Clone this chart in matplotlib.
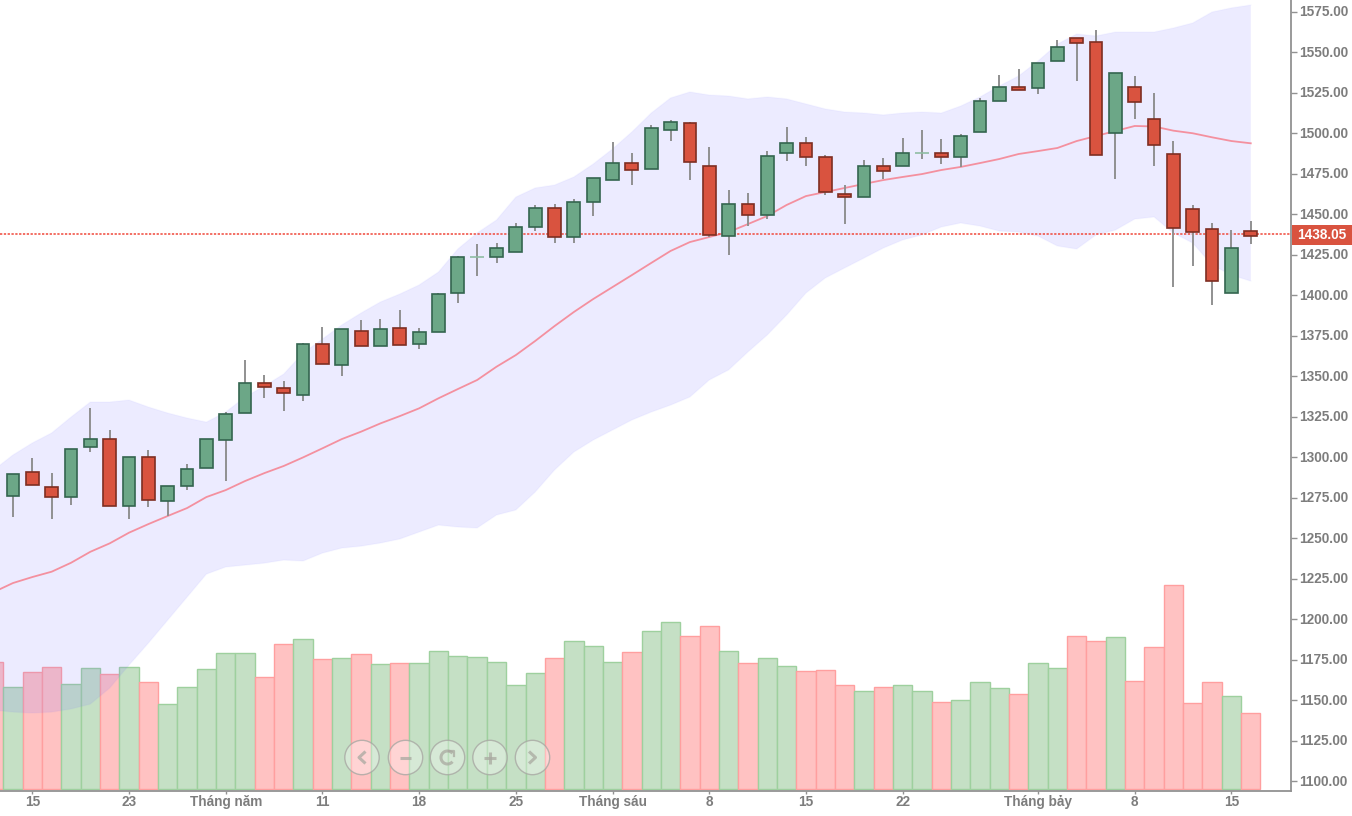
import matplotlib
matplotlib.use("Agg")
import matplotlib.pyplot as plt
import numpy as np
from matplotlib.patches import Arc, Circle
from matplotlib.transforms import ScaledTranslation

plt.rcParams["font.family"] = ["Liberation Sans", "DejaVu Sans"]

opens = [1276, 1291, 1281.8, 1275.2, 1306.1, 1311.1, 1269.9, 1300.1, 1273, 1282.2, 1293.1, 1310.8, 1327.1,
         1345.6, 1342.6, 1338.4, 1369.7, 1357.1, 1378.1, 1368.7, 1379.6, 1370.1, 1377.3, 1401.2, 1423.7, 1423.7,
         1426.6, 1442.2, 1453.9, 1436, 1457.4, 1471.4, 1481.7, 1478.2, 1502.1, 1506.4, 1480.1, 1436.6, 1456.2,
         1449.8, 1487.7, 1494.1, 1485.6, 1462.4, 1460.5, 1480.1, 1480, 1488.1, 1487.9, 1485.2, 1500.7, 1520,
         1528.9, 1527.9, 1544.7, 1558.9, 1556.5, 1500.1, 1528.9, 1508.7, 1487.1, 1453.1, 1440.8, 1401.2, 1439.6]
closes = [1289.4, 1283, 1275.2, 1304.9, 1311.1, 1269.9, 1300.1, 1273.7, 1282.4, 1292.5, 1311.1, 1326.5, 1345.8,
          1343.2, 1339.5, 1369.7, 1357.8, 1379, 1368.7, 1379, 1369.5, 1377.3, 1400.8, 1423.8, 1423.7, 1429,
          1442.2, 1453.9, 1436, 1457.6, 1472.5, 1481.7, 1477.4, 1503.3, 1507.2, 1482.3, 1437.1, 1456.2, 1449.8,
          1486.2, 1494.1, 1485.2, 1463.8, 1460.5, 1480.1, 1476.8, 1487.9, 1488.1, 1485.2, 1498.6, 1520.2, 1528.9,
          1526.8, 1543.5, 1553.6, 1555.7, 1486.9, 1537.3, 1519.4, 1493, 1441.4, 1439.1, 1408.8, 1429.2, 1436.9]
highs = [1289.4, 1299.7, 1290.4, 1304.9, 1330.6, 1316.6, 1300.1, 1304.3, 1282.4, 1295.8, 1311.1, 1328.1, 1360,
         1350.8, 1346.9, 1370.7, 1380.6, 1379, 1384.6, 1385.4, 1390.9, 1380, 1401.6, 1424, 1431.7, 1432.5,
         1444.9, 1455.6, 1456.4, 1459.5, 1472.5, 1494.9, 1488.1, 1505, 1508.1, 1507.2, 1491.8, 1465, 1463.4,
         1489, 1503.8, 1497.6, 1486.5, 1468, 1483.4, 1485, 1497.4, 1502.1, 1496.6, 1499.6, 1521.9, 1536.1,
         1539.8, 1543.5, 1557.7, 1558.9, 1563.9, 1537.3, 1535.3, 1525.2, 1495.1, 1455.8, 1444.9, 1440.3, 1445.7]
lows = [1263.1, 1283, 1262, 1270.5, 1303, 1269.9, 1262, 1269.1, 1263.7, 1279.7, 1293.1, 1285.3, 1327.1,
        1336.4, 1328.5, 1334.5, 1357.8, 1350.2, 1368.7, 1368.7, 1369.5, 1367, 1377.3, 1395.4, 1411.9, 1420.1,
        1426.6, 1439.5, 1432.5, 1432.5, 1448.8, 1471.4, 1468.1, 1478.2, 1495.1, 1471.2, 1436, 1424.9, 1442.8,
        1447.3, 1482.8, 1479.7, 1462, 1444.2, 1460.5, 1471.8, 1480, 1484.4, 1481.3, 1479.3, 1500.7, 1520,
        1526.8, 1524.5, 1544.7, 1532.4, 1486.9, 1471.8, 1509.1, 1479.7, 1404.9, 1417.9, 1394, 1401.2, 1431.9]

# these start one session before the first visible candle
ma = [1216.7, 1222.3, 1226, 1229.3, 1234.8, 1241.6, 1246.8, 1253.4, 1258.7, 1263.7, 1268.6, 1275.4, 1279.7,
      1285.3, 1290.2, 1294.6, 1299.9, 1305.5, 1311.2, 1315.8, 1320.9, 1325.4, 1330.2, 1336.4, 1342.1, 1347.7,
      1355.9, 1363.1, 1371.8, 1381, 1389.7, 1397.7, 1405.1, 1412.5, 1420, 1427.4, 1432.9, 1436, 1439.1, 1444,
      1449, 1455.8, 1461.3, 1463.8, 1466.3, 1468.8, 1471.2, 1473.1, 1474.9, 1477.4, 1479.3, 1481.7, 1484.2,
      1487.3, 1489.1, 1491, 1495.3, 1498.4, 1501.5, 1504.6, 1504.3, 1501.7, 1500.1, 1497.6, 1495.3, 1493.9]
upper = [1292.1, 1301.4, 1308.8, 1315, 1324.8, 1334.1, 1334.1, 1335.3, 1331, 1327.3, 1324.2, 1321.7, 1327.9,
         1337.2, 1344, 1351.4, 1364.4, 1373, 1381.7, 1389.1, 1395.9, 1400.8, 1406.4, 1414.4, 1428.6, 1438.5,
         1446.5, 1460.7, 1466.3, 1468.1, 1473.1, 1481.1, 1490.4, 1500.9, 1512.6, 1521.9, 1525.6, 1523.7, 1523.1,
         1521.3, 1522.5, 1521.3, 1518.2, 1515.1, 1513.2, 1512.6, 1511.4, 1512.6, 1513.2, 1512.6, 1516.9, 1522.5,
         1529.3, 1535.5, 1544.7, 1555.2, 1561.4, 1560.2, 1562.6, 1562.6, 1562.6, 1565.1, 1568.2, 1575, 1577.5, 1579.3]
lower = [1143.8, 1142.6, 1142, 1142.6, 1144.5, 1147.5, 1157.4, 1171.6, 1185.2, 1199.4, 1213.6, 1227.8, 1232.2,
         1233.4, 1234.6, 1236.5, 1235.9, 1240.8, 1243.9, 1245.1, 1247, 1249.5, 1253.8, 1258.1, 1256.9, 1256.3,
         1264.3, 1267.4, 1278.5, 1292.1, 1303.2, 1310.6, 1316.8, 1323, 1327.9, 1332.2, 1337.2, 1347.7, 1353.9,
         1365, 1375.5, 1387.8, 1401.4, 1410.7, 1416.9, 1423, 1429.2, 1434.2, 1437.3, 1442.2, 1444.7, 1442.8,
         1439.7, 1439.1, 1436.6, 1430.5, 1428.6, 1437.3, 1440.3, 1447.1, 1448.4, 1438.5, 1432.3, 1418.7, 1412.5, 1408.8]
volume = [127, 102, 117, 122, 105, 121, 115, 122, 107, 85, 102, 120, 136, 136, 112, 145, 150, 130, 131, 135, 125,
          126, 126, 138, 133, 132, 127, 104, 116, 131, 148, 143, 127, 137, 158, 167, 153, 163, 138, 126, 131, 123,
          118, 119, 104, 98, 102, 104, 98, 87, 89, 107, 101, 95, 126, 121, 153, 148, 152, 108, 142, 204, 86, 107,
          93, 76]

date_ticks = [1, 6, 11, 16, 21, 26, 31, 36, 41, 46, 53, 58, 63]
date_labels = ["15", "23", "Tháng năm", "11", "18", "25", "Tháng sáu", "8", "15", "22", "Tháng bảy", "8", "15"]
price_ticks = list(range(1100, 1600, 25))
last_price = 1438.05

W, H = 1352, 816
GREEN, GREEN_EDGE = "#6ca787", "#34654f"
RED, RED_EDGE = "#d9533f", "#7e2e22"
GREY = "#7d7d7d"
AXIS = "#929292"

# pixel layout of the plot area
step = 19.34
x0 = 13
px_per_unit = 1.619
ax_right = 1291
ax_bottom = 791

fig = plt.figure(figsize=(W / 100, H / 100), dpi=100)
rect = [0, 1 - ax_bottom / H, ax_right / W, ax_bottom / H]

ax_vol = fig.add_axes(rect, zorder=1)
ax = fig.add_axes(rect, zorder=2)
ax.patch.set_alpha(0)

xlim = (-x0 / step, (ax_right - x0) / step)
ylim = (1575 - (ax_bottom - 12) / px_per_unit, 1575 + 12 / px_per_unit)

# volume bars
vx = np.arange(len(volume)) - 1
is_up = [False] + [c >= o for o, c in zip(opens, closes)]
ax_vol.bar(vx, volume, width=1.0,
           color=["#c5e0c5" if u else "#ffc2c2" for u in is_up],
           edgecolor=["#9ed09e" if u else "#ff9f9f" for u in is_up], linewidth=1)
ax_vol.set_xlim(xlim)
ax_vol.set_ylim(-2, ax_bottom - 2)
ax_vol.axis("off")

# bands and moving average
ax.fill_between(vx, lower, upper, facecolor="#7a73ff", alpha=0.14, edgecolor="none", zorder=1)
ax.plot(vx, upper, color="#7a73ff", alpha=0.05, lw=1, zorder=1)
ax.plot(vx, lower, color="#7a73ff", alpha=0.05, lw=1, zorder=1)
ax.plot(vx, ma, color="#f4909f", lw=1.3, zorder=2)

ax.axhline(last_price, color="#f0483a", lw=1.1, ls=(0, (1.5, 1)), zorder=3)

# candles
cx = np.arange(len(opens))
ax.vlines(cx, lows, highs, color="#909090", lw=1.4, zorder=4)
for i, (o, c) in enumerate(zip(opens, closes)):
    if o == c:
        ax.hlines(c, i - 0.36, i + 0.36, color="#8fbda3", lw=1.2, zorder=5)
        continue
    up = c > o
    ax.bar(i, abs(c - o), bottom=min(o, c), width=0.66, color=GREEN if up else RED,
           edgecolor=GREEN_EDGE if up else RED_EDGE, linewidth=1.2, zorder=5)

ax.set_xlim(xlim)
ax.set_ylim(ylim)
for s in ["top", "left"]:
    ax.spines[s].set_visible(False)
for s in ["right", "bottom"]:
    ax.spines[s].set_color(AXIS)
    ax.spines[s].set_linewidth(1.3)

ax.yaxis.tick_right()
ax.set_yticks(price_ticks)
ax.set_yticklabels([f"{p:.2f}" for p in price_ticks])
ax.tick_params(axis="y", length=4, width=1, color=AXIS, pad=1.5, labelsize=9.8, labelcolor=GREY)
ax.set_xticks(date_ticks)
ax.set_xticklabels(date_labels)
ax.tick_params(axis="x", length=2.5, width=1, color=AXIS, pad=0.3, labelsize=9.8, labelcolor=GREY)
for t in ax.get_xticklabels() + ax.get_yticklabels():
    t.set_fontweight("bold")
for t in ax.get_yticklabels():
    t.set_transform(t.get_transform() + ScaledTranslation(0, 1 / 100, fig.dpi_scale_trans))

# last price tag and zoom/scroll buttons, drawn in pixel coordinates
overlay = fig.add_axes([0, 0, 1, 1], zorder=5)
overlay.set_xlim(0, W)
overlay.set_ylim(H, 0)
overlay.axis("off")
overlay.patch.set_alpha(0)
overlay.add_patch(plt.Rectangle((1292, 225), 60, 20, fc=RED, ec="none"))
overlay.text(1322, 235, f"{last_price:.2f}", ha="center", va="center", color="white",
             fontsize=9.8, fontweight="bold")

GLYPH = dict(color="#a9a9a0", alpha=0.75, lw=2.2, solid_capstyle="butt")
buttons = [362, 405.5, 447.5, 490, 532.5]
by = 757.5
for bx in buttons:
    overlay.add_patch(Circle((bx, by), 17.2, fc=(1, 1, 1, 0.3), ec=(0.66, 0.66, 0.64, 0.8), lw=1))
overlay.plot([buttons[0] + 3.5, buttons[0] - 3, buttons[0] + 3.5], [by - 6, by, by + 6], **GLYPH)
overlay.plot([buttons[1] - 5.5, buttons[1] + 5.5], [by, by], **GLYPH)
overlay.add_patch(Arc((buttons[2], by), 13, 13, theta1=40, theta2=320, color="#a9a9a0", alpha=0.75, lw=2.2))
overlay.plot([buttons[2] + 1.5, buttons[2] + 6.5, buttons[2] + 6.5], [by - 6.5, by - 6.5, by - 2],
             color="#a9a9a0", alpha=0.75, lw=1.6)
overlay.plot([buttons[3] - 6, buttons[3] + 6], [by, by], **GLYPH)
overlay.plot([buttons[3], buttons[3]], [by - 6, by + 6], **GLYPH)
overlay.plot([buttons[4] - 3.5, buttons[4] + 3, buttons[4] - 3.5], [by - 6, by, by + 6], **GLYPH)

fig.savefig("out.png", dpi=100)
